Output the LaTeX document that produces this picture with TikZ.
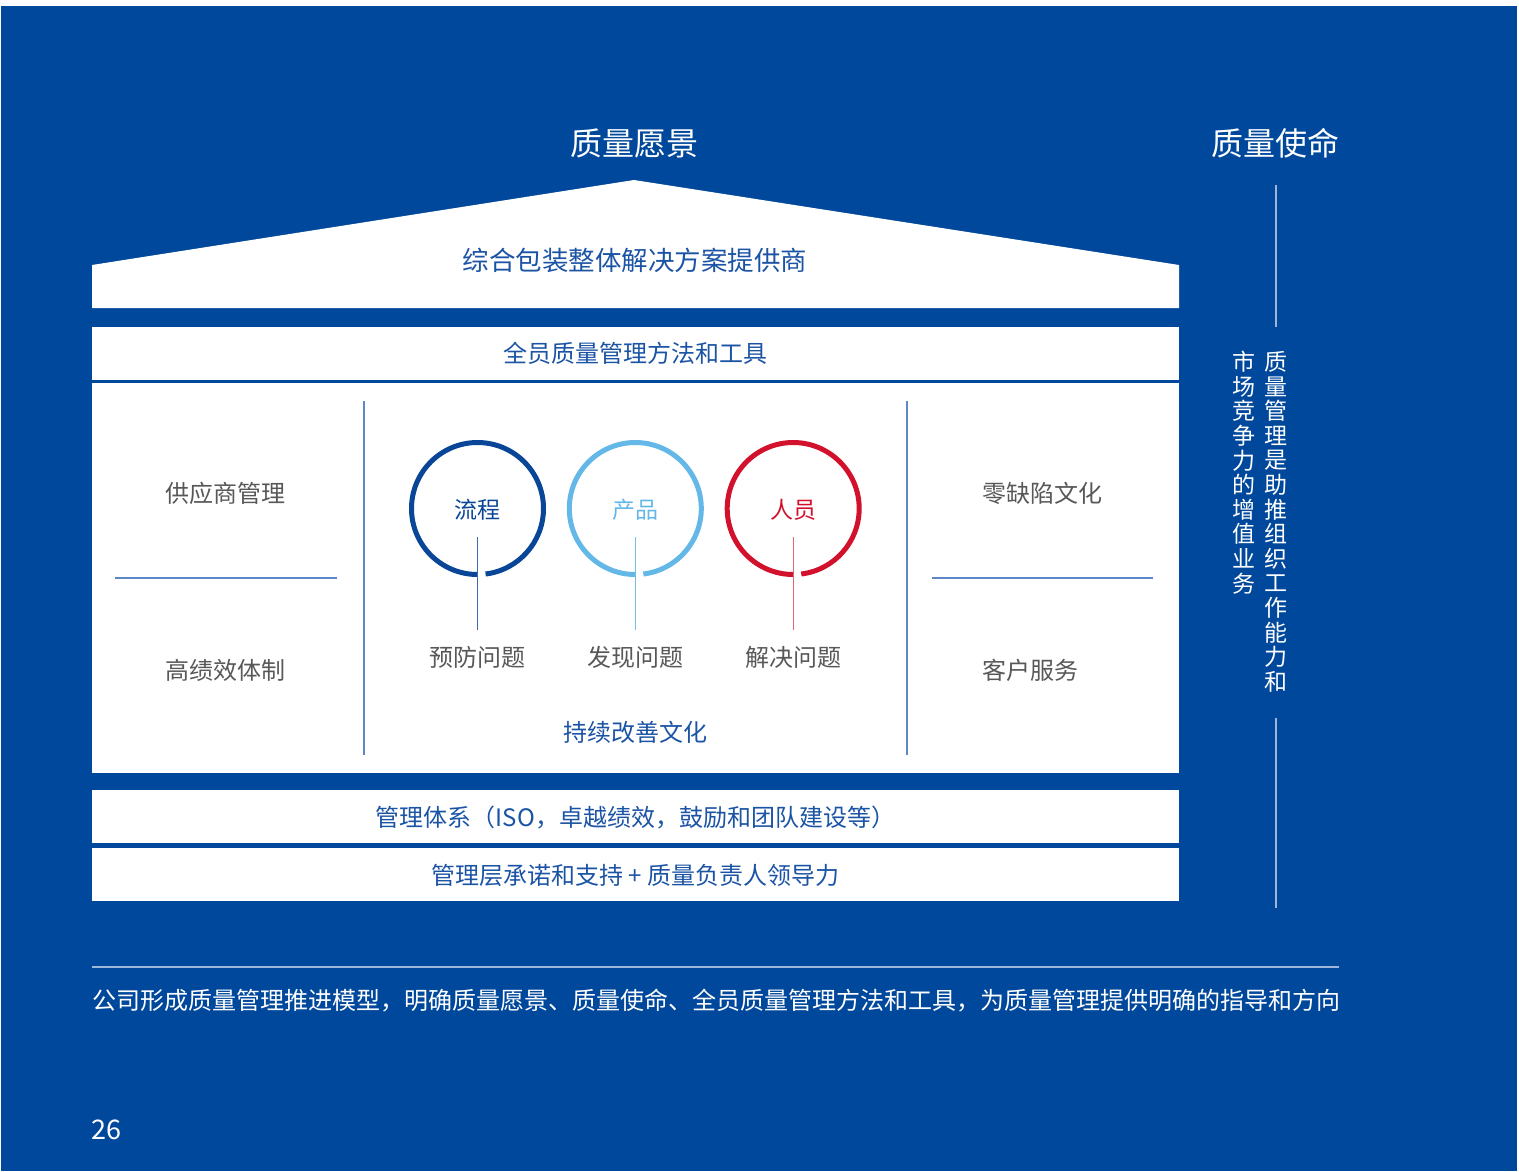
\documentclass[tikz,border=0pt]{standalone}
\usepackage{fontspec}
\setmainfont{Noto Sans CJK SC}
\definecolor{bg}{RGB}{0,72,156}
\definecolor{txtblue}{RGB}{28,84,165}
\definecolor{cdark}{RGB}{10,70,152}
\definecolor{clight}{RGB}{100,184,232}
\definecolor{cred}{RGB}{210,18,45}
\definecolor{gtxt}{RGB}{88,88,88}
\definecolor{sep}{RGB}{92,136,200}
\definecolor{pale}{RGB}{160,182,216}
\newcommand{\fsz}[1]{\fontsize{#1}{#1}\selectfont}
\tikzset{
  band/.style={fill=white, draw=none},
  bandtext/.style={text=txtblue, font=\fsz{24}, inner sep=0pt},
  title/.style={text=white, font=\fsz{32}, inner sep=0pt},
  graytext/.style={text=gtxt, font=\fsz{24}, inner sep=0pt},
  sepline/.style={draw=sep, line width=1.2pt},
  paleline/.style={draw=pale, line width=1.4pt},
  ring/.style={line width=5pt},
  stem/.style={line width=1.5pt},
  ringtext/.style={font=\fsz{23}, inner sep=0pt},
  vtext/.style={text=white, font=\fsz{23}, inner sep=0pt, align=center, anchor=north}
}
\begin{document}
\begin{tikzpicture}[x=1pt,y=-1pt]
\useasboundingbox (0,0) rectangle (1519,1171);
\fill[white] (0,0) rectangle (1519,1171);
\fill[bg] (1,6) rectangle (1517,1171);

% titles
\node[title] (vision) at (634.5,143) {质量愿景};
\node[title] (mission) at (1275.5,143) {质量使命};

% roof
\fill[white] (92,308) -- (92,265) -- (634,180) -- (1179,265) -- (1179,308) -- cycle;
\node[text=txtblue, font=\fsz{26.5}, inner sep=0pt] (roof) at (635,260) {综合包装整体解决方案提供商};

% band 2
\fill[band] (92,327) rectangle (1179,380);
\node[bandtext] (tools) at (635.5,353) {全员质量管理方法和工具};

% main box
\fill[band] (92,383) rectangle (1179,773);
\coordinate (vl1a) at (364,401); \coordinate (vl1b) at (364,755);
\coordinate (vl2a) at (907,401); \coordinate (vl2b) at (907,755);
\draw[sepline] (vl1a) -- (vl1b);
\draw[sepline] (vl2a) -- (vl2b);
\coordinate (hl1a) at (115,578); \coordinate (hl1b) at (337,578);
\coordinate (hl2a) at (932,578); \coordinate (hl2b) at (1153,578);
\draw[sepline] (hl1a) -- (hl1b);
\draw[sepline] (hl2a) -- (hl2b);

\node[graytext, anchor=west] (supplier) at (165,493) {供应商管理};
\node[graytext, anchor=west] (perf) at (165,670) {高绩效体制};
\node[graytext, anchor=west] (zero) at (982,493) {零缺陷文化};
\node[graytext, anchor=west] (cust) at (982,670) {客户服务};

% rings
\coordinate (c1) at (477.5,508.5);
\coordinate (c2) at (635.3,508.5);
\coordinate (c3) at (793.2,508.5);
\draw[ring, cdark] (c1) ++(90:66) arc[start angle=90, end angle=443, radius=66];
\draw[ring, clight] (c2) ++(90:66) arc[start angle=90, end angle=443, radius=66];
\draw[ring, cred] (c3) ++(90:66) arc[start angle=90, end angle=443, radius=66];
\node[ringtext, text=cdark] (t1) at (477.5,510) {流程};
\node[ringtext, text=clight] (t2) at (635.3,510) {产品};
\node[ringtext, text=cred] (t3) at (793.2,510) {人员};

\coordinate (s1a) at (477.7,537); \coordinate (s1b) at (477.7,630);
\coordinate (s2a) at (635.3,537); \coordinate (s2b) at (635.3,630);
\coordinate (s3a) at (793.3,537); \coordinate (s3b) at (793.3,630);
\draw[stem, cdark!80] (s1a) -- (s1b);
\draw[stem, clight!90] (s2a) -- (s2b);
\draw[stem, cred!65] (s3a) -- (s3b);

\node[graytext] (prevent) at (477.5,657) {预防问题};
\node[graytext] (find) at (635.3,657) {发现问题};
\node[graytext] (solve) at (793.2,657) {解决问题};
\node[bandtext] (improve) at (635.5,732) {持续改善文化};

% bands 3 and 4
\fill[band] (92,790) rectangle (1179,843);
\node[bandtext] (system) at (635.5,817) {管理体系（ISO，卓越绩效，鼓励和团队建设等）};
\fill[band] (92,848) rectangle (1179,901);
\node[bandtext] (commit) at (635.5,875) {管理层承诺和支持 + 质量负责人领导力};

% mission column
\coordinate (m1a) at (1276,185); \coordinate (m1b) at (1276,327);
\coordinate (m2a) at (1276,718); \coordinate (m2b) at (1276,908);
\draw[paleline] (m1a) -- (m1b);
\draw[paleline] (m2a) -- (m2b);
\node[vtext] (colA) at (1276,351) {质\\[1.6pt]量\\[1.6pt]管\\[1.6pt]理\\[1.6pt]是\\[1.6pt]助\\[1.6pt]推\\[1.6pt]组\\[1.6pt]织\\[1.6pt]工\\[1.6pt]作\\[1.6pt]能\\[1.6pt]力\\[1.6pt]和};
\node[vtext] (colB) at (1244,351) {市\\[1.6pt]场\\[1.6pt]竞\\[1.6pt]争\\[1.6pt]力\\[1.6pt]的\\[1.6pt]增\\[1.6pt]值\\[1.6pt]业\\[1.6pt]务};

% footer
\coordinate (fa) at (92,967); \coordinate (fb) at (1339,967);
\draw[paleline] (fa) -- (fb);
\node[text=white, font=\fsz{24}, inner sep=0pt, anchor=west] (summary) at (92,1001) {公司形成质量管理推进模型，明确质量愿景、质量使命、全员质量管理方法和工具，为质量管理提供明确的指导和方向};
\node[text=white, font=\fsz{27}, inner sep=0pt, anchor=west] (page) at (91,1130) {26};
\end{tikzpicture}
\end{document}
